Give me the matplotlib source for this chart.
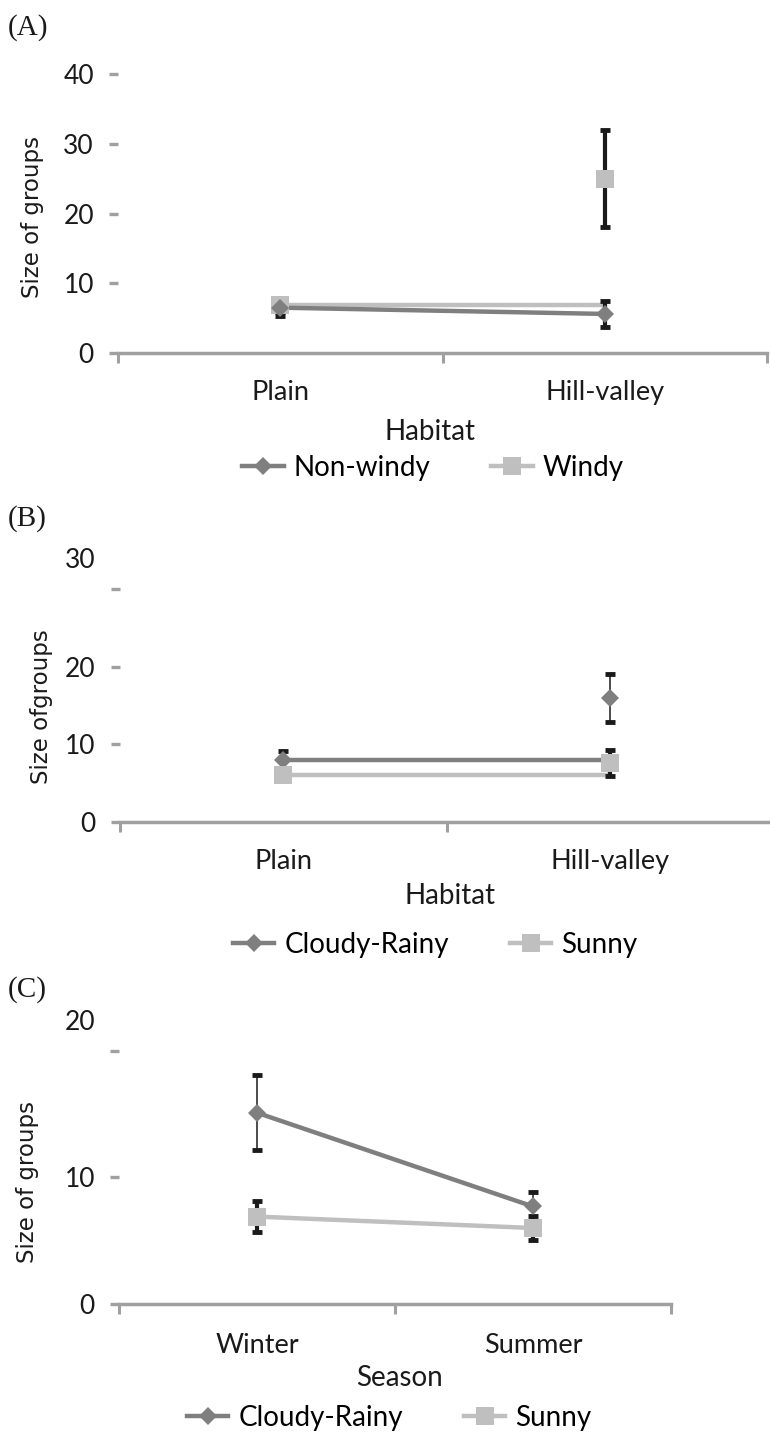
import matplotlib

matplotlib.use("Agg")
import matplotlib.pyplot as plt
import numpy as np
from matplotlib.lines import Line2D

# ---- data -------------------------------------------------------------
habitats = ["Plain", "Hill-valley"]
seasons = ["Winter", "Summer"]

# (A) habitat x wind
nonwindy_mean = [6.5, 5.6]
nonwindy_err = [1.2, 1.85]
nonwindy_line = [6.5, 5.6]
windy_mean = [6.9, 25.0]
windy_err = [1.0, 7.0]
windy_line = [6.9, 6.9]

# (B) habitat x weather
cloudy_b_mean = [7.9, 16.0]
cloudy_b_err = [1.2, 3.1]
cloudy_b_line = [7.9, 7.9]
sunny_b_mean = [6.0, 7.6]
sunny_b_err = [0.8, 1.7]
sunny_b_line = [6.0, 6.0]

# (C) season x weather
cloudy_c_mean = [15.1, 7.7]
cloudy_c_err = [2.95, 1.15]
cloudy_c_line = [15.1, 7.7]
sunny_c_mean = [6.9, 6.0]
sunny_c_err = [1.2, 0.95]
sunny_c_line = [6.9, 6.0]

# ---- style ------------------------------------------------------------
W, H = 770, 1433
DARK = "#7f7f7f"
LIGHT = "#bfbfbf"
AXIS = "#a0a0a0"
ERR = "#1a1a1a"
TXT = "#1a1a1a"
SANS = ["Lato", "DejaVu Sans"]
LBL = ["DejaVu Sans"]
SERIF = ["Liberation Serif", "DejaVu Serif"]

fig = plt.figure(figsize=(W / 100, H / 100), dpi=100)


def px_axes(left, right, bottom, top):
    """Axes from pixel edges (y measured from the top of the figure)."""
    return fig.add_axes([left / W, 1 - bottom / H, (right - left) / W, (bottom - top) / H])


def series(ax, x, mean, err, line, color, marker, ms, elw):
    ax.plot(x, line, color=color, lw=3.2, zorder=2, solid_capstyle="butt")
    ax.errorbar(x, mean, yerr=err, fmt="none", ecolor=ERR, elinewidth=elw,
                capsize=3.3, capthick=3.5, zorder=3)
    ax.plot(x, mean, ls="none", marker=marker, ms=ms, color=color, mew=0, zorder=4)


def handle(color, marker, ms):
    return Line2D([], [], color=color, lw=3.2, marker=marker, ms=ms, mew=0)


def style_axes(ax, cats, ymax, step, cat_pad, hidden_top=None):
    ax.set_xlim(0, len(cats))
    ax.set_ylim(0, ymax)
    for s in ("top", "right", "left"):
        ax.spines[s].set_visible(False)
    ax.spines["bottom"].set_color(AXIS)
    ax.spines["bottom"].set_linewidth(2.5)
    ax.set_xticks(np.arange(len(cats) + 1))
    ax.set_xticklabels([])
    ax.tick_params(axis="x", which="major", length=7.2, width=2.2, color=AXIS)
    ax.set_xticks(np.arange(len(cats)) + 0.5, labels=cats, minor=True)
    ax.tick_params(axis="x", which="minor", length=0, pad=cat_pad,
                   labelsize=19.5, labelcolor=TXT)
    yt = np.arange(0, ymax + step / 2, step)
    ax.set_yticks(yt)
    labels = [f"{v:g}" for v in yt]
    if hidden_top is not None:
        # top label sits above its tick mark
        labels[-1] = ""
        ax.annotate(f"{yt[-1]:g}", xy=(0, hidden_top), xycoords=("axes fraction", "data"),
                    xytext=(-17.3, 0), textcoords="offset points", ha="right", va="center",
                    fontsize=19, color=TXT, family=SANS, annotation_clip=False)
    ax.set_yticklabels(labels)
    ax.tick_params(axis="y", length=6.5, width=2.4, color=AXIS, pad=10.8,
                   labelsize=19, labelcolor=TXT)
    for t in ax.get_xticklabels(minor=True) + ax.get_yticklabels():
        t.set_family(SANS)


def place(ax, obj_x, obj_y, left, width, bottom, height):
    return (obj_x - left) / width, (bottom - obj_y) / height


def finish(ax, xlabel, names, box, lab_xy, leg_xy):
    ax.set_xlabel(xlabel, fontsize=20, family=SANS, color=TXT)
    ax.xaxis.set_label_coords(*place(ax, *lab_xy, *box))
    ax.xaxis.label.set_va("center")
    ax.legend([handle(DARK, "D", 8.7), handle(LIGHT, "s", 12.6)], names,
              loc="center", bbox_to_anchor=place(ax, *leg_xy, *box),
              ncol=2, frameon=False, prop={"family": SANS, "size": 20},
              handlelength=1.5, handletextpad=0.35, columnspacing=2.2, borderaxespad=0)


# ---- (A) --------------------------------------------------------------
axA = px_axes(118, 767, 353, 74)
xA = np.arange(len(habitats)) + 0.5
series(axA, xA, windy_mean, windy_err, windy_line, LIGHT, "s", 12.6, 3.0)
series(axA, xA, nonwindy_mean, nonwindy_err, nonwindy_line, DARK, "D", 8.7, 3.0)
style_axes(axA, habitats, 40, 10, 19.5)
finish(axA, "Habitat", ["Non-windy", "Windy"], (118, 649, 353, 279), (430, 432), (433, 468))

# ---- (B) --------------------------------------------------------------
axB = px_axes(119.6, 774, 821.7, 589)
xB = np.arange(len(habitats)) + 0.5
series(axB, xB, cloudy_b_mean, cloudy_b_err, cloudy_b_line, DARK, "D", 8.7, 1.1)
series(axB, xB, sunny_b_mean, sunny_b_err, sunny_b_line, LIGHT, "s", 12.6, 3.0)
style_axes(axB, habitats, 30, 10, 20.0, hidden_top=33.7)
finish(axB, "Habitat", ["Cloudy-Rainy", "Sunny"], (119.6, 654.4, 821.7, 232.7), (450, 896), (435, 945))

# ---- (C) --------------------------------------------------------------
axC = px_axes(119, 671, 1304, 1050.7)
xC = np.arange(len(seasons)) + 0.5
series(axC, xC, cloudy_c_mean, cloudy_c_err, cloudy_c_line, DARK, "D", 8.7, 1.1)
series(axC, xC, sunny_c_mean, sunny_c_err, sunny_c_line, LIGHT, "s", 12.6, 3.0)
style_axes(axC, seasons, 20, 10, 21.0, hidden_top=22.2)
finish(axC, "Season", ["Cloudy-Rainy", "Sunny"], (119, 552, 1304, 253.3), (399, 1378), (389, 1418))

# ---- y labels and panel letters ----------------------------------------
for x, y, text in [(33, 217, "Size of groups"), (42, 707, "Size ofgroups"), (28, 1182, "Size of groups")]:
    fig.text(x / W, 1 - y / H, text, rotation=90, ha="center", va="center",
             fontsize=16.5, family=LBL, color=TXT)
for y, text in [(28, "(A)"), (519, "(B)"), (990, "(C)")]:
    fig.text(8 / W, 1 - y / H, text, ha="left", va="center", fontsize=21, family=SERIF, color=TXT)

fig.savefig("out.png", dpi=100)
